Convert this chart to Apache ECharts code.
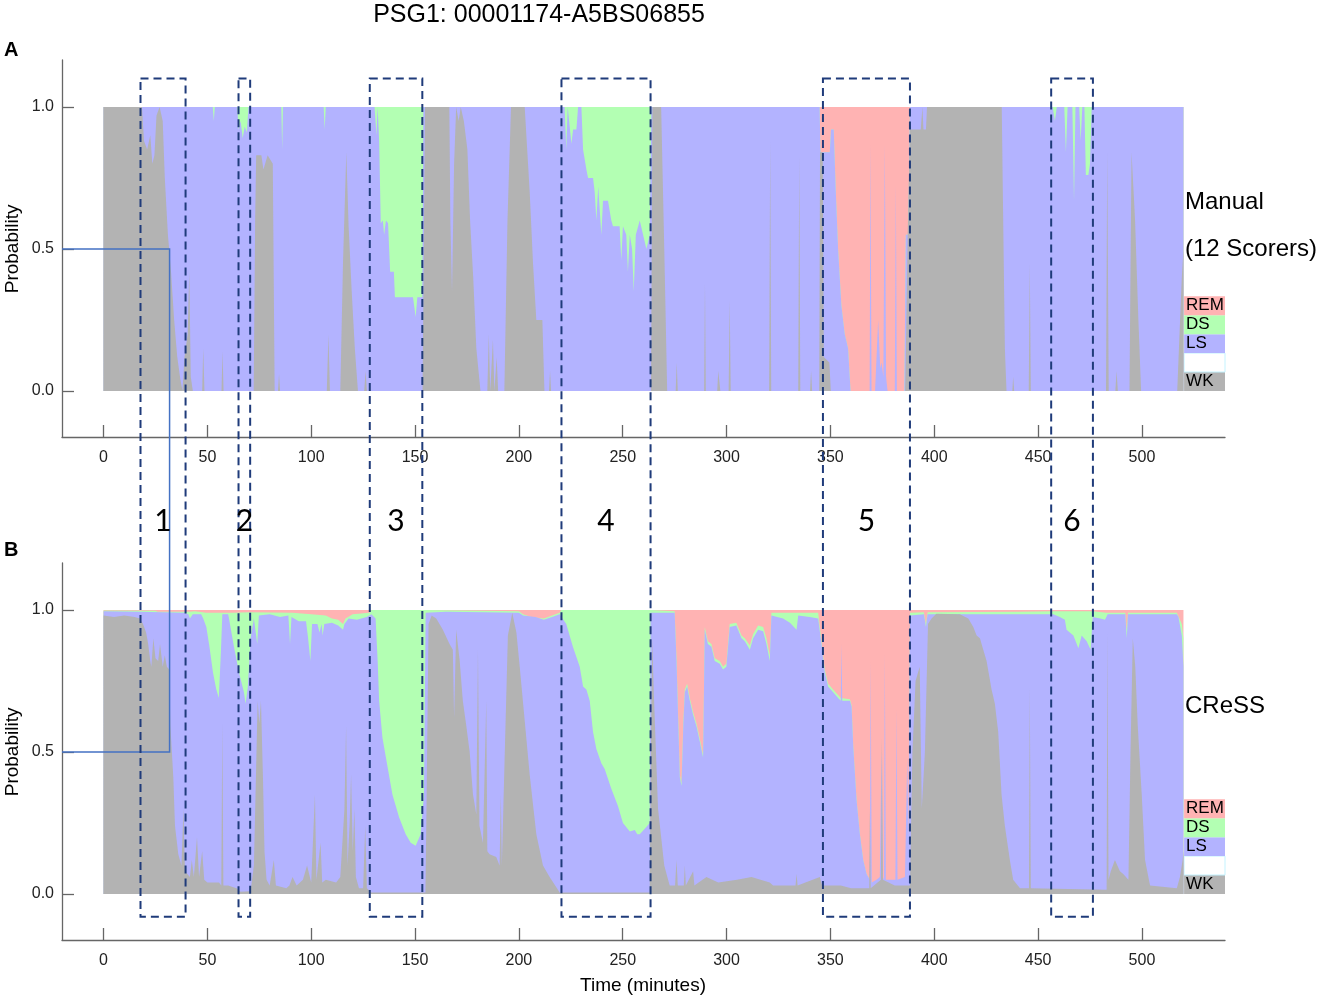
<!DOCTYPE html>
<html>
<head>
<meta charset="utf-8">
<script src="https://cdn.jsdelivr.net/npm/echarts@6/dist/echarts.min.js"></script>
<style>
html, body { margin: 0; padding: 0; background: #fff; }
#chart { width: 1325px; height: 1001px; }
</style>
</head>
<body>
<div id="chart"></div>
<script>
// axes
var xTicks = [0, 50, 100, 150, 200, 250, 300, 350, 400, 450, 500];
var yTicks = [0, 0.5, 1];

// stage colours, bottom to top of the stack
var stageColors = { WK: '#b3b3b3', LS: '#b3b3ff', DS: '#b3ffb3', REM: '#ffb3b3' };
var legendRows = ['WK', '', 'LS', 'DS', 'REM'];
var legendBand = 0.0667;

// highlighted epochs (minutes) and their numbers
var boxRanges = [[17.8, 39.5], [65.0, 70.6], [128.2, 153.5], [220.5, 263.4], [346.4, 388.3], [456.3, 476.4]];
var boxLabels = ['1', '2', '3', '4', '5', '6'];

// ---- A: manual scoring (12 scorers), cumulative probability tops [minute, value] ----
var manualWK = [[0,1],[18.5,1],[19.5,0.88],[21,0.85],[22.5,0.9],[23.5,0.8],[24.5,0.83],[25.5,0.97],[27,1],[28.5,0.95],
  [29.5,0.75],[31,0.55],[32.5,0.42],[34,0.25],[35.5,0.12],[37,0.04],[38,0],[39,0.12],[40.5,0.2],[41.3,0.42],[42,0.05],[43,0],
  [47.5,0],[48,0.15],[48.6,0],[56.8,0],[57.3,0.14],[57.8,0],[72.3,0],[73,0.6],[73.5,0.83],[76,0.83],[77,0.78],[79,0.83],
  [81.5,0.8],[82.4,0],[84,0],[84.5,0.06],[85,0],[107.5,0],[108.3,0.2],[109,0],[114,0],[115.3,0.45],[116.9,0.84],[118,0.58],
  [119.5,0.35],[121,0.15],[122.5,0],[125.5,0],[126.2,0.07],[126.8,0],[153.6,0],[154.8,1],[166.5,1],[167,0.6],[167.8,0.35],
  [168.8,0.8],[169.8,1],[171,0.95],[172,1],[173.5,0.95],[175.2,0.85],[176.5,0.6],[178,0.4],[179.5,0.15],[181.5,0],
  [184.8,0],[185.5,0.2],[186.2,0],[187.5,0.18],[188.2,0],[189.3,0.12],[190,0],[193,0],[194.5,0.6],[196.2,1],[202.8,1],
  [204,0.85],[205.2,0.7],[206.8,0.45],[208.4,0.25],[211.3,0.25],[212.3,0],[214.5,0],[215,0.07],[215.5,0],[263.6,0],
  [264.3,1],[268.5,1],[270,0.5],[271.4,0],[275.5,0],[276,0.1],[276.5,0],[289.2,0],[289.6,0.38],[290,0],[295.5,0],
  [296,0.07],[296.6,0.07],[297,0],[301,0],[301.5,0.32],[302,0],[320.5,0],[321,0.88],[321.5,0],[334.5,0],[335,0.83],
  [335.5,0],[340.2,0],[340.7,0.07],[341.2,0],[344.6,0],[345,0.84],[346.3,0.84],[346.8,0.12],[349.5,0.1],[350.2,0],
  [386,0],[386.5,0.2],[387.2,0.55],[388.3,0.92],[393.5,0.92],[394.3,1],[394.8,0.92],[396,0.92],[396.5,1],[432.5,1],
  [433.2,0.6],[434,0.15],[434.8,0],[437.6,0],[438,0.05],[438.5,0],[445.5,0],[446,0.45],[446.5,0],[482.7,0],[483.3,0.84],
  [484,0],[487.2,0],[487.8,0.07],[488.4,0],[494,0],[495,0.84],[496.7,0.6],[498.3,0.25],[499.6,0],[517,0],[519.2,0.4],[520,0.5]];

var manualLS = [[0,1],[52.6,1],[53.1,0.95],[53.6,1],[64.4,1],[65,0.92],[66,0.95],[67,0.89],[68,0.93],[69,0.91],[69.8,1],
  [85.6,1],[86,0.85],[86.4,1],[106,1],[106.5,0.92],[107,1],[130.5,1],[131.4,0.9],[132,1],[132.7,0.88],[133.5,0.59],
  [134.5,0.6],[135.1,0.55],[136,0.6],[137,0.59],[138,0.42],[139.8,0.42],[140.3,0.33],[149,0.33],[150.3,0.26],[151.1,0.33],
  [153.5,0.33],[154,1],[222,1],[222.8,0.85],[223.5,1],[225.3,0.87],[226.1,0.92],[227.7,0.92],[228.5,1],[230.1,1],
  [230.9,0.85],[232.5,0.78],[233.3,0.75],[235.7,0.75],[236.5,0.7],[237.3,0.6],[238.2,0.72],[239.7,0.55],[240.5,0.67],
  [242.9,0.67],[244.5,0.6],[245.3,0.58],[248.5,0.58],[249.3,0.46],[250.1,0.58],[251.7,0.55],[252.5,0.42],[253.4,0.55],
  [254.5,0.5],[255.3,0.35],[256.3,0.55],[258.2,0.6],[259.8,0.55],[261.4,0.5],[263,0.55],[263.8,1],[344.8,1],[345.2,0.84],
  [349.7,0.84],[350.3,0.92],[351.6,0.92],[352.6,0.7],[353.7,0.5],[355.3,0.3],[356.9,0.2],[358.5,0.15],[359.7,0],[368.9,0],
  [369.3,0.87],[369.8,0],[371.5,0],[373,0.25],[374,0.08],[374.6,0.1],[375.5,0.05],[376.2,0.87],[376.8,0.05],[377.5,0],
  [381,0],[381.5,0.73],[382,0],[385.6,0],[386.3,0.55],[387.5,0.55],[388.3,1],[457,1],[458.1,0.95],[459,1],[462.6,1],
  [463.4,0.84],[464.2,1],[466.5,1],[467.3,0.67],[468,1],[469.8,1],[470.5,0.88],[471.3,1],[472.3,1],[473,0.76],[474.2,0.76],
  [475,0.8],[475.8,1],[520,1]];

var manualDS = [[0,1],[344.8,1],[345.2,0.84],[349.7,0.84],[350.3,0.92],[351.6,0.92],[352.6,0.7],[353.7,0.5],[355.3,0.3],
  [356.9,0.2],[358.5,0.15],[359.7,0],[385.6,0],[386.3,0.55],[387.5,0.55],[388.3,1],[520,1]];

var manualAll = [[0,1],[520,1]];

// ---- B: CReSS output, cumulative probability tops [minute, value] ----
var cressWK = [[0,0.98],[5,0.975],[10,0.98],[15,0.975],[17.5,0.97],[19,0.95],[20.5,0.92],[21.5,0.88],[22.5,0.82],[23,0.8],
  [24,0.9],[25,0.83],[26.3,0.82],[27.2,0.88],[28.5,0.8],[29.5,0.84],[30.5,0.8],[31.6,0.79],[32.2,0.59],[33.6,0.41],
  [34.4,0.24],[36,0.14],[37.5,0.1],[38.5,0.3],[39.2,0.08],[41.6,0.06],[42.5,0.12],[43.5,0.06],[45,0.2],[46,0.06],
  [47.5,0.15],[48.5,0.05],[50,0.04],[55.6,0.04],[56.7,0.03],[57.2,0.6],[57.7,0.03],[60,0.03],[64,0.02],[66,0.008],
  [70.8,0.01],[72.4,0.1],[73.5,0.45],[74.2,0.68],[75,0.6],[75.8,0.68],[76.8,0.4],[77.5,0.15],[78.5,0.05],[80,0.03],
  [82,0.12],[83,0.03],[88,0.02],[89.5,0.03],[91,0.06],[93,0.03],[96,0.05],[98,0.1],[100,0.04],[101.8,0.35],[102.5,0.05],
  [104.5,0.18],[105.3,0.04],[107,0.05],[112,0.04],[114,0.06],[116,0.3],[116.8,0.59],[117.5,0.1],[118.5,0.25],[119.2,0.42],
  [120,0.15],[120.8,0.3],[121.5,0.06],[123,0.02],[125,0.02],[126,0.24],[126.8,0.02],[129,0.005],[155,0.005],[155.5,0.3],
  [156.5,0.95],[158,0.98],[160.2,0.97],[163.4,0.93],[166.6,0.88],[168.2,0.86],[168.8,0.62],[169.8,0.93],[171.5,0.82],
  [173,0.68],[174.7,0.59],[176.3,0.5],[177.9,0.35],[179.5,0.28],[180.3,0.86],[181,0.24],[182.7,0.18],[184.3,0.68],
  [184.8,0.15],[185.9,0.14],[189.1,0.13],[190.7,0.1],[191.3,0.35],[191.8,0.1],[193.1,0.47],[194.7,0.91],[196.8,0.99],
  [198.8,0.92],[200.4,0.8],[202.8,0.61],[205.2,0.42],[208.4,0.21],[211.6,0.1],[214.8,0.06],[218.8,0.015],[219.6,0.005],
  [263,0.005],[263.5,0.5],[264.2,0.9],[265,0.7],[267,0.3],[270,0.1],[272.6,0.03],[275.2,0.03],[275.9,0.12],[276.5,0.03],
  [279.4,0.03],[279.9,0.1],[280.4,0.03],[283.9,0.08],[284.5,0.03],[290.3,0.06],[296,0.04],[305,0.05],[312,0.06],
  [320.8,0.04],[322.4,0.03],[333.2,0.03],[333.7,0.07],[334.2,0.03],[344.9,0.06],[346,0.03],[355,0.03],[360,0.02],
  [368.7,0.02],[369,0.3],[369.4,0.02],[374.3,0.05],[374.8,0.55],[375.3,0.05],[381,0.03],[386,0.03],[388.3,0.03],
  [389.5,0.5],[391,0.75],[393,0.8],[394,0.3],[395.5,0.5],[397,0.95],[398.7,0.97],[401,0.986],[412.3,0.985],[416.4,0.97],
  [418.8,0.94],[420.4,0.91],[422,0.9],[423.6,0.86],[425.2,0.82],[427.6,0.72],[429.2,0.67],[430.8,0.57],[432.4,0.35],
  [434,0.24],[436.4,0.12],[438,0.05],[441.3,0.02],[445.6,0.02],[446,0.73],[446.5,0.02],[483,0.015],[483.4,0.92],
  [483.9,0.05],[485,0.08],[487,0.12],[489.4,0.08],[491,0.07],[493.5,0.05],[494.5,0.5],[495.6,0.9],[496.8,0.8],[498,0.59],
  [499.9,0.35],[501.5,0.12],[503.9,0.03],[516.8,0.02],[518.3,0.06],[519.6,0.12],[520,0.15]];

var cressLS = [[0,0.995],[17,0.993],[39,0.99],[40.8,0.985],[41.6,0.97],[42.4,0.965],[43,0.985],[47,0.985],[48,0.97],
  [49.5,0.94],[51,0.87],[52.7,0.78],[54.3,0.72],[55.5,0.69],[56.5,0.85],[57.2,0.985],[60,0.985],[60.4,0.97],[62.8,0.87],
  [65.2,0.78],[67.6,0.71],[68.4,0.67],[69.5,0.73],[70.8,0.9],[72.4,0.97],[74,0.88],[74.8,0.98],[80,0.985],[85,0.975],
  [89,0.98],[89.8,0.88],[90.5,0.975],[94,0.96],[97.5,0.96],[98.5,0.9],[99.6,0.82],[100.4,0.95],[103,0.95],[104,0.92],
  [105,0.95],[105.5,0.91],[106.3,0.95],[110,0.955],[113,0.945],[115.3,0.93],[116,0.95],[118,0.97],[122,0.965],
  [126.7,0.975],[129,0.985],[131,0.97],[132,0.82],[132.7,0.68],[134.3,0.55],[136.7,0.45],[139.1,0.35],[142.3,0.27],
  [145.5,0.21],[147.9,0.18],[150.3,0.17],[152.7,0.21],[154.3,0.35],[155.1,0.99],[165,0.993],[200,0.99],[202,0.98],
  [208,0.975],[212,0.965],[216,0.975],[219.6,0.985],[220.4,0.985],[222.8,0.95],[226,0.87],[229.3,0.8],[230.9,0.73],
  [232.5,0.72],[234.1,0.68],[235.7,0.57],[237.3,0.51],[239.7,0.46],[241.3,0.44],[244.5,0.37],[247.7,0.31],[250.1,0.25],
  [253.4,0.22],[255.8,0.225],[257,0.21],[258.2,0.21],[260.6,0.23],[263,0.25],[263.4,0.99],[275,0.99],[275.9,0.82],
  [277.5,0.41],[278.3,0.38],[279.2,0.6],[279.9,0.71],[281,0.73],[282.3,0.68],[283.9,0.63],[285.5,0.59],[287,0.54],
  [288.7,0.48],[289.5,0.93],[291,0.88],[292.7,0.87],[294.3,0.82],[296.7,0.81],[298.3,0.79],[299.9,0.8],[301.5,0.94],
  [304.7,0.945],[307.2,0.9],[308.8,0.89],[311.2,0.86],[312.8,0.9],[315.2,0.93],[317.6,0.925],[319.2,0.88],[320.8,0.82],
  [321.6,0.98],[327.2,0.97],[330.5,0.955],[333.7,0.93],[334.5,0.98],[340,0.975],[344.1,0.97],[345.7,0.88],[347.3,0.78],
  [348.9,0.73],[351.3,0.71],[353.7,0.69],[355,0.68],[355.3,0.88],[355.7,0.68],[359.4,0.68],[360.2,0.66],[361,0.52],
  [362.6,0.33],[364.2,0.21],[365.8,0.12],[367.4,0.07],[369,0.05],[369.4,0.82],[369.9,0.04],[372.2,0.05],[373.8,0.06],
  [374.6,0.5],[375.3,0.06],[375.8,0.05],[376.2,0.85],[376.7,0.05],[381.3,0.05],[381.8,0.65],[382.3,0.05],[385.9,0.06],
  [387,0.48],[387.6,0.2],[388.3,0.98],[395,0.985],[396,0.94],[396.8,0.985],[441,0.985],[457.3,0.985],[460.5,0.975],
  [462.9,0.965],[463.7,0.93],[467,0.91],[469.4,0.865],[471,0.91],[473.4,0.89],[475.3,0.86],[476.3,0.975],[480,0.97],
  [482.2,0.965],[483.5,0.985],[492,0.985],[492.7,0.9],[493.3,0.985],[516.8,0.985],[517.6,0.975],[519.2,0.91],[520,0.8]];

var cressDS = [[0,0.998],[25,0.997],[26,0.993],[41,0.993],[44,0.995],[49.5,0.99],[62,0.99],[70,0.992],[91,0.99],
  [100,0.985],[107,0.98],[110,0.97],[113,0.965],[115.3,0.95],[116.5,0.97],[120,0.985],[128,0.99],[129,1],[155.1,1],
  [156,0.997],[200,0.995],[202,0.985],[206,0.975],[212,0.97],[216,0.98],[219.6,0.99],[220.4,1],[263.4,1],[264,0.996],
  [275,0.995],[275.9,0.83],[277.5,0.42],[278.3,0.39],[279.2,0.61],[279.9,0.72],[281,0.74],[282.3,0.69],[283.9,0.64],
  [285.5,0.6],[287,0.55],[288.7,0.49],[289.5,0.94],[291,0.89],[292.7,0.88],[294.3,0.83],[296.7,0.82],[298.3,0.8],
  [299.9,0.81],[301.5,0.95],[304.7,0.955],[307.2,0.91],[308.8,0.9],[311.2,0.875],[312.8,0.915],[315.2,0.945],
  [317.6,0.94],[319.2,0.9],[320.8,0.84],[321.6,0.99],[334.5,0.99],[344.1,0.99],[345.7,0.89],[347.3,0.79],[348.9,0.74],
  [351.3,0.72],[353.7,0.7],[355,0.69],[359.4,0.685],[360.2,0.665],[361,0.52],[362.6,0.33],[364.2,0.21],[365.8,0.12],
  [367.4,0.07],[369,0.05],[369.9,0.04],[386,0.04],[387.6,0.04],[388.3,0.99],[395,0.992],[396,0.95],[396.8,0.992],
  [441,0.993],[457,0.995],[476.3,0.995],[483,0.99],[492,0.99],[492.7,0.93],[493.3,0.99],[516.8,0.99],[517.6,0.985],
  [519.2,0.95],[520,0.9]];

var cressAll = [[0,1],[520,1]];

var FF = "'Liberation Sans', Arial, Helvetica, sans-serif";
var chart = echarts.init(document.getElementById('chart'), null, { renderer: 'canvas' });

function legendArea() {
    var data = [];
    legendRows.forEach(function (name, i) {
        var fill = name ? stageColors[name] : '#ffffff';
        data.push([
            { name: name, xAxis: 520.3, yAxis: i * legendBand,
              itemStyle: { color: fill, opacity: 1, borderColor: name ? fill : '#c4f3ff', borderWidth: name ? 0 : 1 } },
            { xAxis: 540, yAxis: (i + 1) * legendBand }
        ]);
    });
    return {
        silent: true,
        label: { show: true, position: 'insideLeft', distance: 2, color: '#000', fontSize: 17, fontFamily: FF },
        data: data
    };
}

function area(name, data, color, gi, withLegend) {
    var s = {
        name: name, type: 'line', xAxisIndex: gi, yAxisIndex: gi, data: data,
        symbol: 'none', showSymbol: false, silent: true, animation: false,
        lineStyle: { width: 0 }, areaStyle: { color: color, opacity: 1 }
    };
    if (withLegend) s.markArea = legendArea();
    return s;
}

function xAx(gi) {
    return {
        type: 'value', gridIndex: gi, min: -20, max: 540,
        axisLine: { show: true, onZero: false, lineStyle: { color: '#666', width: 1.3 } },
        axisTick: { show: true, inside: true, length: 12, customValues: xTicks, lineStyle: { color: '#666', width: 1.3 } },
        axisLabel: { customValues: xTicks, color: '#222', fontSize: 16, margin: 13, fontFamily: FF },
        splitLine: { show: false }
    };
}
function yAx(gi) {
    return {
        type: 'value', gridIndex: gi, min: -0.162, max: 1.165,
        axisLine: { show: true, onZero: false, lineStyle: { color: '#666', width: 1.3 } },
        axisTick: { show: true, inside: true, length: 12, customValues: yTicks, lineStyle: { color: '#666', width: 1.3 } },
        axisLabel: { customValues: yTicks, color: '#222', fontSize: 16, margin: 8, fontFamily: FF,
                     formatter: function (v) { return v.toFixed(1); } },
        splitLine: { show: false }
    };
}

chart.setOption({
    animation: false,
    backgroundColor: '#fff',
    grid: [
        { left: 62, top: 60, width: 1163, height: 377, containLabel: false, outerBoundsMode: 'none' },
        { left: 62, top: 563, width: 1163, height: 377, containLabel: false, outerBoundsMode: 'none' }
    ],
    xAxis: [xAx(0), xAx(1)],
    yAxis: [yAx(0), yAx(1)],
    series: [
        area('REM', manualAll, stageColors.REM, 0, true),
        area('DS', manualDS, stageColors.DS, 0),
        area('LS', manualLS, stageColors.LS, 0),
        area('WK', manualWK, stageColors.WK, 0),
        area('REM', cressAll, stageColors.REM, 1, true),
        area('DS', cressDS, stageColors.DS, 1),
        area('LS', cressLS, stageColors.LS, 1),
        area('WK', cressWK, stageColors.WK, 1)
    ]
});

// overlay: dashed epoch boxes across both panels, bracket line and texts
var g = [];
var yBoxTop = chart.convertToPixel({ yAxisIndex: 0 }, 1.1);
var yBoxBot = chart.convertToPixel({ yAxisIndex: 1 }, -0.08);
boxRanges.forEach(function (r, i) {
    var x0 = chart.convertToPixel({ xAxisIndex: 0 }, r[0]);
    var x1 = chart.convertToPixel({ xAxisIndex: 0 }, r[1]);
    g.push({ type: 'rect', z: 100, silent: true,
             shape: { x: x0, y: yBoxTop, width: x1 - x0, height: yBoxBot - yBoxTop },
             style: { fill: 'none', stroke: '#1f3b7a', lineWidth: 2, lineDash: [8, 5] } });
    g.push({ type: 'text', z: 100, x: (x0 + x1) / 2, y: 521,
             style: { text: boxLabels[i], fontSize: 30, fontFamily: 'Lato, Carlito, sans-serif', fill: '#000',
                      align: 'center', verticalAlign: 'middle' } });
});

var xL = chart.convertToPixel({ xAxisIndex: 0 }, -20);
var xB = chart.convertToPixel({ xAxisIndex: 0 }, 31.8);
var yA = chart.convertToPixel({ yAxisIndex: 0 }, 0.5);
var yB = chart.convertToPixel({ yAxisIndex: 1 }, 0.5);
g.push({ type: 'polyline', z: 99, silent: true,
         shape: { points: [[xL, yA], [xB, yA], [xB, yB], [xL, yB]] },
         style: { fill: 'none', stroke: '#4472c4', lineWidth: 1.5 } });

function txt(s, x, y, size, opts) {
    var o = { type: 'text', z: 100, x: x, y: y,
              style: { text: s, fontSize: size, fontFamily: FF, fill: '#000', align: 'left', verticalAlign: 'middle' } };
    if (opts) {
        for (var k in opts) {
            if (k === 'rotation') o.rotation = opts[k];
            else o.style[k] = opts[k];
        }
    }
    g.push(o);
}
txt('PSG1: 00001174-A5BS06855', 539, 15, 25, { align: 'center' });
txt('A', 4, 50, 20, { fontWeight: 'bold' });
txt('B', 4, 550, 20, { fontWeight: 'bold' });
txt('Probability', 13, yA, 19, { align: 'center', rotation: Math.PI / 2 });
txt('Probability', 13, yB, 19, { align: 'center', rotation: Math.PI / 2 });
txt('Time (minutes)', 643, 986, 19, { align: 'center' });
txt('Manual', 1185, 202, 24);
txt('(12 Scorers)', 1185, 249, 24);
txt('CReSS', 1185, 706, 24);

chart.setOption({ graphic: g });
</script>
</body>
</html>
